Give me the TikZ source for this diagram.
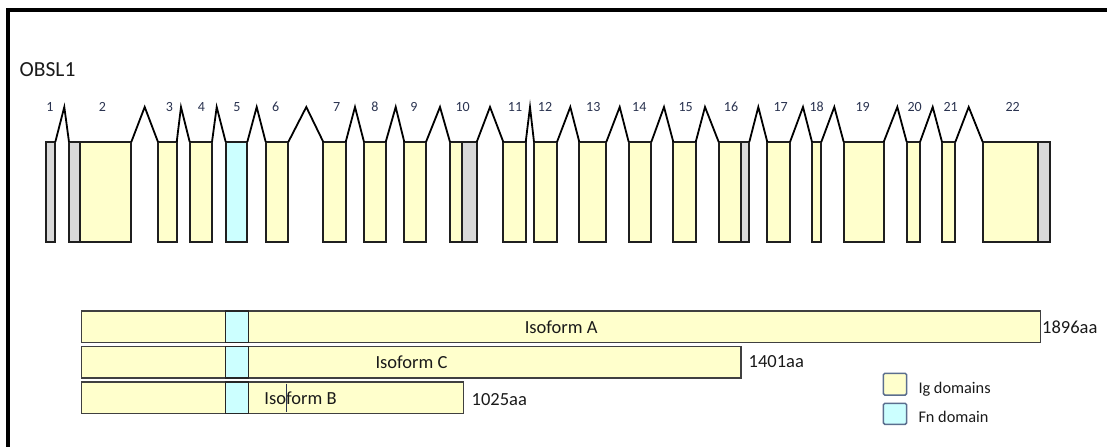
\documentclass[tikz,border=0pt]{standalone}
\usepackage{fontspec}
\setmainfont{Carlito}
\definecolor{ig}{HTML}{FFFFCC}
\definecolor{fn}{HTML}{CCFFFF}
\definecolor{utr}{HTML}{D9D9D9}
\definecolor{numc}{HTML}{2A3350}
\definecolor{legc}{HTML}{5B6E8E}
\definecolor{txtc}{HTML}{1A1A1A}
\tikzset{
  exon/.style={draw=black!88, line width=1.8pt, fill=ig, inner sep=0pt, outer sep=0pt, minimum height=100pt, anchor=north west},
  utrbox/.style={exon, fill=utr},
  fnbox/.style={exon, fill=fn},
  intron/.style={draw=black, line width=1.8pt},
  exnum/.style={font=\fontsize{14}{16}\selectfont, text=numc, inner sep=0pt},
  bar/.style={draw=black!75, line width=1.5pt, fill=ig, inner sep=0pt, outer sep=0pt, minimum height=31.3pt, anchor=north west},
  fnbar/.style={bar, fill=fn, draw=black!85},
  isotext/.style={font=\fontsize{18.5}{20}\selectfont, text=txtc, inner sep=0pt},
  legbox/.style={draw=legc, line width=1.5pt, rounded corners=1.5pt, inner sep=0pt, minimum width=23.4pt},
  legtext/.style={font=\fontsize{16.3}{18}\selectfont, text=txtc, inner sep=0pt, anchor=base west},
  cursorline/.style={draw=numc, line width=0.9pt}
}
\begin{document}
\begin{tikzpicture}[x=1pt, y=-1pt]
\useasboundingbox (0,0) rectangle (1107,447);
% frame
\fill[black] (6,8) rectangle (1107,12);
\fill[black] (6,8) rectangle (10,447);
% title
\node[font=\fontsize{21.5}{24}\selectfont, text=txtc, anchor=base west, inner sep=0pt] (title) at (19.5,76) {OBSL1};
% exons
\node[utrbox, minimum width=9.3pt] (e1u) at (46,142) {};
\node[utrbox, minimum width=11.3pt] (e2u) at (69,142) {};
\node[exon, minimum width=51pt] (e2) at (80.3,142) {};
\node[exon, minimum width=18.7pt] (e3) at (158,142) {};
\node[exon, minimum width=22.3pt] (e4) at (189.7,142) {};
\node[fnbox, minimum width=21.6pt] (e5) at (225.7,142) {};
\node[exon, minimum width=22.6pt] (e6) at (265.7,142) {};
\node[exon, minimum width=22.4pt] (e7) at (323.3,142) {};
\node[exon, minimum width=21.7pt] (e8) at (364,142) {};
\node[exon, minimum width=21.7pt] (e9) at (404.3,142) {};
\node[exon, minimum width=11.7pt] (e10) at (450,142) {};
\node[utrbox, minimum width=15pt] (e10u) at (461.7,142) {};
\node[exon, minimum width=22.4pt] (e11) at (503.3,142) {};
\node[exon, minimum width=23pt] (e12) at (534,142) {};
\node[exon, minimum width=27pt] (e13) at (579.3,142) {};
\node[exon, minimum width=22.6pt] (e14) at (628.7,142) {};
\node[exon, minimum width=22.4pt] (e15) at (673.3,142) {};
\node[exon, minimum width=22pt] (e16) at (718.7,142) {};
\node[utrbox, minimum width=8.6pt] (e16u) at (740.7,142) {};
\node[exon, minimum width=22.7pt] (e17) at (767.3,142) {};
\node[exon, minimum width=9.3pt] (e18) at (812,142) {};
\node[exon, minimum width=40pt] (e19) at (843.7,142) {};
\node[exon, minimum width=13.3pt] (e20) at (906.7,142) {};
\node[exon, minimum width=13.3pt] (e21) at (942,142) {};
\node[exon, minimum width=55.6pt] (e22) at (982.7,142) {};
\node[utrbox, minimum width=11.7pt] (e22u) at (1038.3,142) {};
% introns
\foreach \a/\p/\b in {e1u/64.3/e2u, e2/144.7/e3, e3/181/e4, e4/216.7/e5, e5/256.7/e6, e6/306.3/e7, e7/355/e8, e8/395.7/e9, e9/440/e10, e10u/490/e11, e11/530/e12, e12/570.3/e13, e13/619.7/e14, e14/664/e15, e15/705/e16, e16u/758.3/e17, e17/803/e18, e18/834.3/e19, e19/897.3/e20, e20/932.7/e21, e21/968.7/e22}
  \draw[intron] (\a.north east) -- (\p,107) -- (\b.north west);
% exon numbers
\foreach \n/\x in {1/50, 2/102.3, 3/169.3, 4/201.3, 5/237, 6/275.7, 7/336.7, 8/375, 9/414, 10/462.7, 11/515, 12/545, 13/593.3, 14/639.3, 15/685.7, 16/731, 17/780.7, 18/816.7, 19/862.7, 20/914.7, 21/950.7, 22/1012.7}
  \node[exnum] (n\n) at (\x,107) {\n};
% isoforms
\node[bar, minimum width=959pt] (isoA) at (81.7,311) {};
\node[bar, minimum width=659.3pt] (isoC) at (81.7,346.7) {};
\node[bar, minimum width=381.6pt] (isoB) at (81.7,382) {};
\node[fnbar, minimum width=22.6pt] (fnA) at (225.7,311) {};
\node[fnbar, minimum width=22.6pt] (fnC) at (225.7,346.7) {};
\node[fnbar, minimum width=22.6pt] (fnB) at (225.7,382) {};
\node[isotext] (tA) at (561.2,327) {Isoform A};
\node[isotext] (tC) at (411.5,362.5) {Isoform C};
\node[isotext] (tB) at (300.5,398) {Isoform B};
\draw[cursorline] (286.7,383.5) -- (286.7,412);
\node[isotext, anchor=west] (aA) at (1042,327.5) {1896aa};
\node[isotext, anchor=west] (aC) at (748.5,362) {1401aa};
\node[isotext, anchor=west] (aB) at (471.5,399.5) {1025aa};
% legend
\node[legbox, fill=ig, minimum height=21.7pt] (lgI) at (895,384.2) {};
\node[legtext] (lgIt) at (918.3,393.3) {Ig domains};
\node[legbox, fill=fn, minimum height=21pt] (lgF) at (895,413.8) {};
\node[legtext] (lgFt) at (918.3,422.7) {Fn domain};
\end{tikzpicture}
\end{document}
